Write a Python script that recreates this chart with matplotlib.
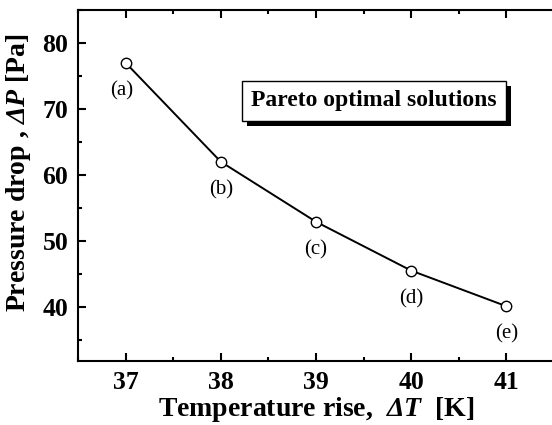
import matplotlib
matplotlib.use("Agg")
import matplotlib.pyplot as plt
import matplotlib.patheffects as pe

# data
delta_t = [37, 38, 39, 40, 41]
delta_p = [77.0, 62.0, 52.9, 45.5, 40.1]
point_labels = ["(a)", "(b)", "(c)", "(d)", "(e)"]
x_ticks = [37, 38, 39, 40, 41]
y_ticks = [40, 50, 60, 70, 80]

plt.rcParams["font.family"] = ["Liberation Serif", "DejaVu Serif"]
plt.rcParams["mathtext.fontset"] = "custom"
# greek capitals are taken from the rm slot, so make it italic bold too
plt.rcParams["mathtext.rm"] = "Liberation Serif:italic:bold"
plt.rcParams["mathtext.it"] = "Liberation Serif:italic:bold"
plt.rcParams["mathtext.bf"] = "Liberation Serif:bold"

fig = plt.figure(figsize=(5.52, 4.25), dpi=100)
ax = fig.add_axes([78 / 552, 64 / 425, 476 / 552, 351 / 425])

ax.plot(delta_t, delta_p, color="black", lw=1.4, marker="o", ms=7.5,
        mfc="white", mec="black", mew=1.0, zorder=3)

for x, y, lab in zip(delta_t, delta_p, point_labels):
    dx = -3 if lab == "(a)" else 0
    ax.annotate(lab, (x, y), xytext=(dx, -20), textcoords="offset points",
                ha="center", va="center", fontsize=15)

ax.set_xlim(36.5, 41.5)
ax.set_ylim(31.8, 85)
ax.set_xticks(x_ticks)
ax.set_yticks(y_ticks)
ax.set_xticks([36.5, 37.5, 38.5, 39.5, 40.5, 41.5], minor=True)
ax.set_yticks([35, 45, 55, 65, 75, 85], minor=True)
ax.tick_params(which="both", direction="in", top=True, right=False, width=1.5)
ax.tick_params(which="major", length=6, labelsize=18.5, pad=7)
ax.tick_params(which="minor", length=3)
for lab in ax.get_xticklabels() + ax.get_yticklabels():
    lab.set_fontweight("bold")
for sp in ax.spines.values():
    sp.set_linewidth(1.5)
ax.spines["right"].set_visible(False)

ax.set_xlabel(r"Temperature rise,  $\Delta T$  [K]", fontsize=20,
              fontweight="bold", labelpad=1)
ax.set_ylabel(r"Pressure drop , $\Delta P$ [Pa]", fontsize=20,
              fontweight="bold")
ax.yaxis.set_label_coords(-0.094, 0.537)

t = ax.text(0.622, 0.741, "Pareto optimal solutions", transform=ax.transAxes,
            ha="center", va="center", fontsize=17, fontweight="bold",
            bbox=dict(boxstyle="square,pad=0.4", fc="white", ec="black", lw=1.0))
t.get_bbox_patch().set_path_effects([
    pe.SimplePatchShadow(offset=(3.5, -3.5), shadow_rgbFace="black", alpha=1.0),
    pe.Normal()])

fig.savefig("out.png", dpi=100)
